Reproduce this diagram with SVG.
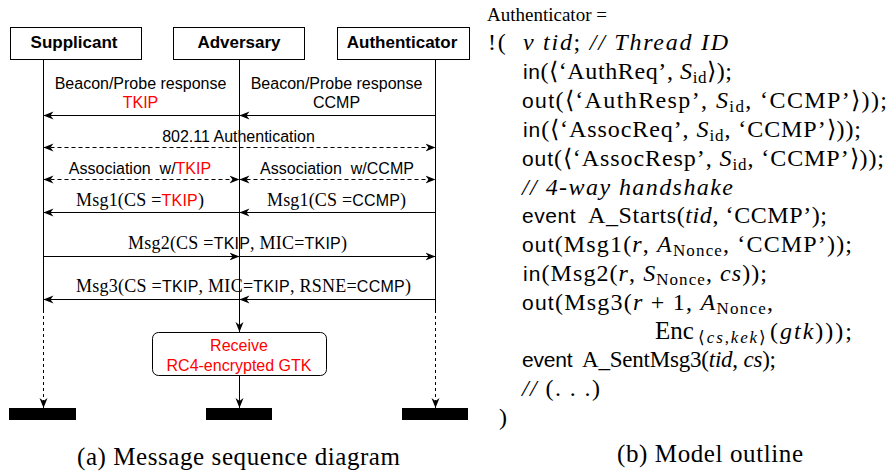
<svg xmlns="http://www.w3.org/2000/svg" width="888" height="474" viewBox="0 0 888 474">
<style>
.bx{fill:#fff;stroke:#000;stroke-width:1}
.hd{font-family:"Liberation Sans",Arial,sans-serif;font-weight:bold;font-size:17px;text-anchor:middle}
.lb{font-family:"Liberation Sans",Arial,sans-serif;font-size:16px;text-anchor:middle}
.m{font-family:"Liberation Serif","Times New Roman",serif;font-size:18px}
.s{font-family:"Liberation Sans",Arial,sans-serif;font-size:16px}
.r{fill:#ff0000}
.ln{stroke:#000;stroke-width:1;fill:none}
.ar{marker-end:url(#arr)}
.bi{marker-start:url(#arr);marker-end:url(#arr)}
.da{stroke-dasharray:4 3}
.dt{stroke-dasharray:3 3}
.t{font-family:"Liberation Serif","Times New Roman",serif;font-size:24px}
.t1{font-family:"Liberation Serif","Times New Roman",serif;font-size:19px}
.t2{font-family:"Liberation Serif","Times New Roman",serif;font-size:23px}
.i{font-style:italic}
.k{font-family:"Liberation Sans",Arial,sans-serif;font-size:21px}
.sb{font-size:17px}
.cap{font-family:"Liberation Serif","Times New Roman",serif;font-size:25px;text-anchor:middle}
</style>
<defs>
<marker id="arr" viewBox="0 0 10 10" refX="10" refY="5" markerWidth="10" markerHeight="10" markerUnits="userSpaceOnUse" orient="auto-start-reverse">
<path d="M0,1 L10,5 L0,9 L3,5 z" fill="#000"/>
</marker>
</defs>

<g id="supplicant">
<rect class="bx" x="10.5" y="27.5" width="131" height="32"/>
<text class="hd" x="74" y="48">Supplicant</text>
<rect x="9" y="408" width="67" height="12" fill="#000"/>
</g>
<g id="adversary">
<rect class="bx" x="173.5" y="27.5" width="131" height="32"/>
<text class="hd" x="239" y="48">Adversary</text>
<rect x="206" y="408" width="66" height="12" fill="#000"/>
</g>
<g id="authenticator">
<rect class="bx" x="337.5" y="27.5" width="132" height="32"/>
<text class="hd" x="402" y="48">Authenticator</text>
<rect x="402" y="408" width="66" height="12" fill="#000"/>
</g>
<g id="receive">
<rect class="bx" x="152.5" y="332.5" width="174" height="43" rx="6"/>
<text class="lb r" x="239" y="351">Receive</text>
<text class="lb r" x="239" y="371">RC4-encrypted GTK</text>
</g>

<g id="connectors">
<line class="ln" x1="43.5" y1="60" x2="43.5" y2="310"/>
<line class="ln dt ar" x1="43.5" y1="310" x2="43.5" y2="408"/>
<line class="ln" x1="435.5" y1="60" x2="435.5" y2="310"/>
<line class="ln dt ar" x1="435.5" y1="310" x2="435.5" y2="408"/>
<line class="ln ar" x1="239.5" y1="60" x2="239.5" y2="332"/>
<line class="ln ar" x1="239.5" y1="376" x2="239.5" y2="408"/>

<line class="ln ar" x1="435.5" y1="115.5" x2="239.5" y2="115.5"/>
<line class="ln ar" x1="239.5" y1="115.5" x2="43.5" y2="115.5"/>
<line class="ln da bi" x1="43.5" y1="147.5" x2="435.5" y2="147.5"/>
<line class="ln da bi" x1="43.5" y1="179.5" x2="239.5" y2="179.5"/>
<line class="ln da bi" x1="239.5" y1="179.5" x2="435.5" y2="179.5"/>
<line class="ln ar" x1="435.5" y1="212.5" x2="239.5" y2="212.5"/>
<line class="ln ar" x1="239.5" y1="212.5" x2="43.5" y2="212.5"/>
<line class="ln ar" x1="43.5" y1="256.5" x2="239.5" y2="256.5"/>
<line class="ln ar" x1="239.5" y1="256.5" x2="435.5" y2="256.5"/>
<line class="ln ar" x1="435.5" y1="299.5" x2="239.5" y2="299.5"/>
<line class="ln ar" x1="239.5" y1="299.5" x2="43.5" y2="299.5"/>

<text class="lb" x="140.5" y="89">Beacon/Probe response</text>
<text class="lb r" x="140.5" y="108">TKIP</text>
<text class="lb" x="336.5" y="89">Beacon/Probe response</text>
<text class="lb" x="336.5" y="108">CCMP</text>
<text class="lb" x="238.5" y="142">802.11 Authentication</text>
<text class="lb" x="140" y="174" xml:space="preserve">Association  w/<tspan class="r">TKIP</tspan></text>
<text class="lb" x="337" y="174" xml:space="preserve">Association  w/CCMP</text>
<text class="m" x="76" y="206" textLength="128">Msg1(CS =<tspan class="s r">TKIP</tspan>)</text>
<text class="m" x="267" y="206" textLength="139">Msg1(CS =<tspan class="s">CCMP</tspan>)</text>
<text class="m" x="128" y="249" textLength="219">Msg2(CS =<tspan class="s">TKIP</tspan>, MIC=<tspan class="s">TKIP</tspan>)</text>
<text class="m" x="76" y="292" textLength="335">Msg3(CS =<tspan class="s">TKIP</tspan>, MIC=<tspan class="s">TKIP</tspan>, RSNE=<tspan class="s">CCMP</tspan>)</text>
</g>

<text class="cap" x="238.5" y="465" textLength="323">(a) Message sequence diagram</text>

<g id="model">
<text class="t1" x="487" y="21">Authenticator =</text>
<text class="t" x="488" y="50" textLength="240" xml:space="preserve">!(  <tspan class="i">ν tid</tspan>; <tspan class="i">// Thread ID</tspan></text>
<text class="t" x="523" y="79" textLength="209"><tspan class="k">in</tspan>(⟨‘AuthReq’, <tspan class="i">S</tspan><tspan class="sb" dy="4">id</tspan><tspan dy="-4">⟩);</tspan></text>
<text class="t" x="522" y="108" textLength="365"><tspan class="k">out</tspan>(⟨‘AuthResp’, <tspan class="i">S</tspan><tspan class="sb" dy="4">id</tspan><tspan dy="-4">, ‘CCMP’⟩));</tspan></text>
<text class="t" x="523" y="137" textLength="338"><tspan class="k">in</tspan>(⟨‘AssocReq’, <tspan class="i">S</tspan><tspan class="sb" dy="4">id</tspan><tspan dy="-4">, ‘CCMP’⟩));</tspan></text>
<text class="t" x="522" y="166" textLength="362"><tspan class="k">out</tspan>(⟨‘AssocResp’, <tspan class="i">S</tspan><tspan class="sb" dy="4">id</tspan><tspan dy="-4">, ‘CCMP’⟩));</tspan></text>
<text class="t i" x="522" y="195" textLength="211">// 4-way handshake</text>
<text class="t" x="522" y="223" textLength="305" xml:space="preserve"><tspan class="k">event</tspan>  A_Starts(<tspan class="i">tid</tspan>, ‘CCMP’);</text>
<text class="t" x="522" y="252" textLength="330"><tspan class="k">out</tspan>(Msg1(<tspan class="i">r</tspan>, <tspan class="i">A</tspan><tspan class="sb" dy="4">Nonce</tspan><tspan dy="-4">, ‘CCMP’));</tspan></text>
<text class="t" x="523" y="281" textLength="244"><tspan class="k">in</tspan>(Msg2(<tspan class="i">r</tspan>, <tspan class="i">S</tspan><tspan class="sb" dy="4">Nonce</tspan><tspan dy="-4">, </tspan><tspan class="i">cs</tspan>));</text>
<text class="t" x="522" y="310" textLength="251"><tspan class="k">out</tspan>(Msg3(<tspan class="i">r</tspan> + 1, <tspan class="i">A</tspan><tspan class="sb" dy="4">Nonce</tspan><tspan dy="-4">,</tspan></text>
<text class="t" x="655" y="339" style="font-size:25px">Enc</text>
<text class="t sb" x="698" y="343" textLength="68">⟨<tspan class="i">cs</tspan>,<tspan class="i">kek</tspan>⟩</text>
<text class="t" x="770" y="339" textLength="82">(<tspan class="i">gtk</tspan>)));</text>
<text class="t2" x="522" y="367" textLength="254" xml:space="preserve"><tspan class="k">event</tspan>  A_SentMsg3(<tspan class="i">tid</tspan>, <tspan class="i">cs</tspan>);</text>
<text class="t" x="522" y="396" textLength="78"><tspan class="i">//</tspan> (. . .)</text>
<text class="t" x="499" y="425">)</text>
</g>
<text class="cap" x="710" y="462" textLength="186">(b) Model outline</text>
</svg>
